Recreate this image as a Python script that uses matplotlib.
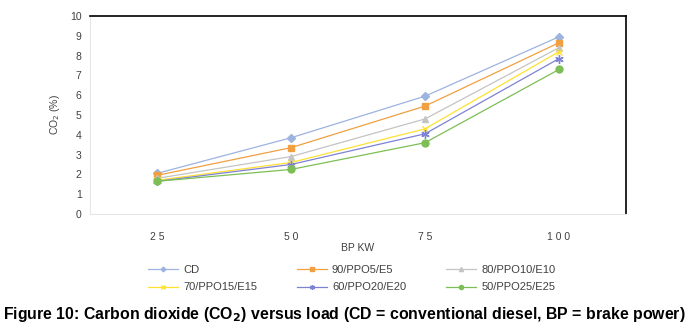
import numpy as np
import matplotlib.pyplot as plt

plt.rcParams['font.family'] = ['Liberation Sans', 'DejaVu Sans']

loads = ['2 5', '5 0', '7 5', '1 0 0']
cd = [2.05, 3.85, 5.95, 8.95]
b90 = [1.95, 3.35, 5.45, 8.65]
b80 = [1.8, 2.9, 4.8, 8.4]
b70 = [1.7, 2.6, 4.3, 8.2]
b60 = [1.65, 2.5, 4.05, 7.85]
b50 = [1.65, 2.25, 3.6, 7.3]

series = [
    ('CD', cd, '#9DB3E0', 'D', 4),
    ('90/PPO5/E5', b90, '#F0A040', 's', 5),
    ('80/PPO10/E10', b80, '#C4C4C4', '^', 5),
    ('70/PPO15/E15', b70, '#FFE033', 'x', 5),
    ('60/PPO20/E20', b60, '#7E82D4', (6, 2, 0), 6),
    ('50/PPO25/E25', b50, '#7DBF55', 'o', 5),
]

fig = plt.figure(figsize=(6.95, 3.27), dpi=100)
ax = fig.add_axes([90 / 695, 1 - 214 / 327, 536 / 695, 198 / 327])

x = np.arange(len(loads))
handles = []
for name, vals, col, mk, ms in series:
    h, = ax.plot(x, vals, color=col, marker=mk, markersize=ms, linewidth=0.9,
                 label=name, markeredgewidth=1.0)
    handles.append(h)

ax.set_xlim(-0.5, 3.5)
ax.set_ylim(0, 10)
ax.set_yticks(range(0, 11))
ax.set_xticks(x)
ax.set_xticklabels(loads)
ax.tick_params(length=0, labelsize=7.5, colors='#404040', pad=6)
ax.tick_params(axis='x', pad=13)
for side in ['top', 'right']:
    ax.spines[side].set_color('black')
    ax.spines[side].set_linewidth(1.2)
for side in ['left', 'bottom']:
    ax.spines[side].set_color('#E6E6E6')
    ax.spines[side].set_linewidth(0.8)

ax.set_ylabel('CO$_2$ (%)', fontsize=7.5, color='#404040', labelpad=6)
fig.text(358 / 695, 1 - 248 / 327, 'BP KW', ha='center', va='center',
         fontsize=7.5, color='#404040')

# row-major order like the reference legend
order = [0, 3, 1, 4, 2, 5]
leg = fig.legend([handles[i] for i in order], [series[i][0] for i in order],
                 loc='center left', bbox_to_anchor=(148 / 695, 1 - 278.5 / 327),
                 ncol=3, frameon=False, fontsize=8, columnspacing=3.6,
                 handlelength=2.7, labelspacing=0.7, handletextpad=0.45,
                 borderpad=0, borderaxespad=0, markerscale=0.6)
for t in leg.get_texts():
    t.set_color('#404040')

fig.text(344 / 695, 1 - 315 / 327,
         'Figure 10: Carbon dioxide (CO$_\\mathbf{2}$) versus load (CD = conventional diesel, BP = brake power)',
         ha='center', va='center', fontsize=11.4, fontweight='bold')

fig.savefig('out.png', dpi=100)
